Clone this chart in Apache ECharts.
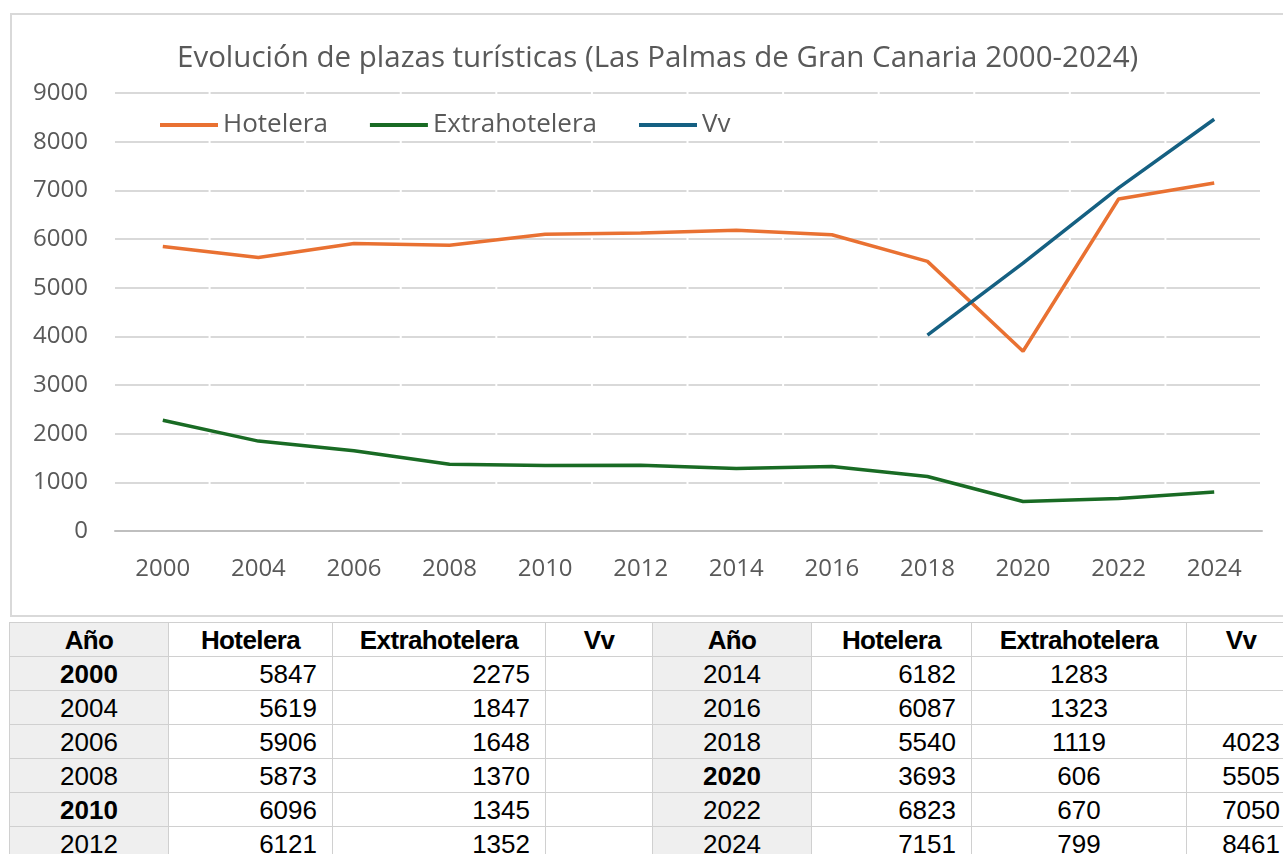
<!DOCTYPE html>
<html>
<head>
<meta charset="utf-8">
<script src="https://cdn.jsdelivr.net/npm/echarts@6/dist/echarts.min.js"></script>
<style>
html,body{margin:0;padding:0;width:1283px;height:854px;overflow:hidden;background:#fff;}
#frame{position:absolute;left:10px;top:13px;width:1290px;height:604px;border:2px solid #d9d9d9;box-sizing:border-box;}
#chart{position:absolute;left:0;top:0;width:1283px;height:620px;}
#tbl{position:absolute;left:0;top:620px;}
.c{position:absolute;box-sizing:border-box;height:35px;line-height:34px;font-family:"Liberation Sans",Arial,sans-serif;font-size:26px;color:#000;border:1px solid #d0d0d0;white-space:nowrap;overflow:hidden;}
.h{font-weight:bold;text-align:center;letter-spacing:-0.6px;}
.g{background:#efefef;}
</style>
</head>
<body>
<div id="frame"></div>
<div id="chart"></div>
<div id="tbl"></div>
<script>
// ---- data ----
const years = ['2000','2004','2006','2008','2010','2012','2014','2016','2018','2020','2022','2024'];
const hotelera = [5847,5619,5906,5873,6096,6121,6182,6087,5540,3693,6823,7151];
const extrahotelera = [2275,1847,1648,1370,1345,1352,1283,1323,1119,606,670,799];
const vv = [null,null,null,null,null,null,null,null,4023,5505,7050,8461];
const seriesNames = ['Hotelera','Extrahotelera','Vv'];
const tableHeaders = ['Año','Hotelera','Extrahotelera','Vv'];
const boldYears = ['2000','2010','2020'];
const titleText = 'Evolución de plazas turísticas (Las Palmas de Gran Canaria 2000-2024)';

const chart = echarts.init(document.getElementById('chart'));
const txt = '#595959';
const font = '"Open Sans"';
const gridLeft = 115, gridRight = 21;
const catW = (1283 - gridLeft - gridRight) / years.length;
chart.setOption({
  animation:false,
  color:['#E97132','#196B24','#156082'],
  title:{text:titleText,left:172,top:39,textStyle:{fontFamily:font,fontSize:29.5,fontWeight:'normal',color:txt}},
  legend:{left:155,top:107,itemWidth:58,itemHeight:4,itemGap:42,icon:'rect',
    textStyle:{fontFamily:font,fontSize:26,color:txt},data:seriesNames},
  grid:{left:gridLeft,right:gridRight,top:93,bottom:89,containLabel:false},
  xAxis:{type:'category',data:years,boundaryGap:true,
    axisLine:{lineStyle:{color:'#bfbfbf',width:2}},axisTick:{show:false},
    axisLabel:{fontFamily:font,fontSize:24,color:txt,margin:26}},
  yAxis:{type:'value',min:0,max:9000,interval:1000,
    axisLine:{show:false},axisTick:{show:false},
    axisLabel:{fontFamily:font,fontSize:24,color:txt,margin:27,formatter:v=>String(v)},
    splitLine:{lineStyle:{color:'#d9d9d9',width:2,type:[catW-2,2],dashOffset:0}}},
  series:[
    {name:seriesNames[0],type:'line',data:hotelera,showSymbol:false,symbol:'none',lineStyle:{width:3.5}},
    {name:seriesNames[1],type:'line',data:extrahotelera,showSymbol:false,symbol:'none',lineStyle:{width:3.5}},
    {name:seriesNames[2],type:'line',data:vv,showSymbol:false,symbol:'none',lineStyle:{width:3.5}}
  ]
});

// ---- table built from the same arrays ----
const tbl = document.getElementById('tbl');
const blocks = [
  {cols:[9,168,332,545,652], idx:[0,1,2,3,4,5], align:['center','right','right','right']},
  {cols:[652,811,971,1186,1295], idx:[6,7,8,9,10,11], align:['center','right','center','right']}
];
const rowTop = 2, rowH = 34;
function cell(x,w,y,text,cls,align,bold){
  const d=document.createElement('div');
  d.className='c '+cls;
  d.style.left=x+'px';d.style.top=y+'px';d.style.width=(w+1)+'px';
  if(align){d.style.textAlign=align; if(align==='right') d.style.paddingRight='15px';}
  if(bold) d.style.fontWeight='bold';
  d.textContent=text;
  tbl.appendChild(d);
}
blocks.forEach(b=>{
  tableHeaders.forEach((h,j)=>{
    cell(b.cols[j],b.cols[j+1]-b.cols[j],rowTop,h,'h'+(j===0?' g':''),null,false);
  });
  b.idx.forEach((i,r)=>{
    const y=rowTop+rowH*(r+1);
    const vals=[years[i],hotelera[i],extrahotelera[i],vv[i]];
    vals.forEach((v,j)=>{
      cell(b.cols[j],b.cols[j+1]-b.cols[j],y,v==null?'':String(v),j===0?'g':'',b.align[j],j===0&&boldYears.includes(years[i]));
    });
  });
});
</script>
</body>
</html>
